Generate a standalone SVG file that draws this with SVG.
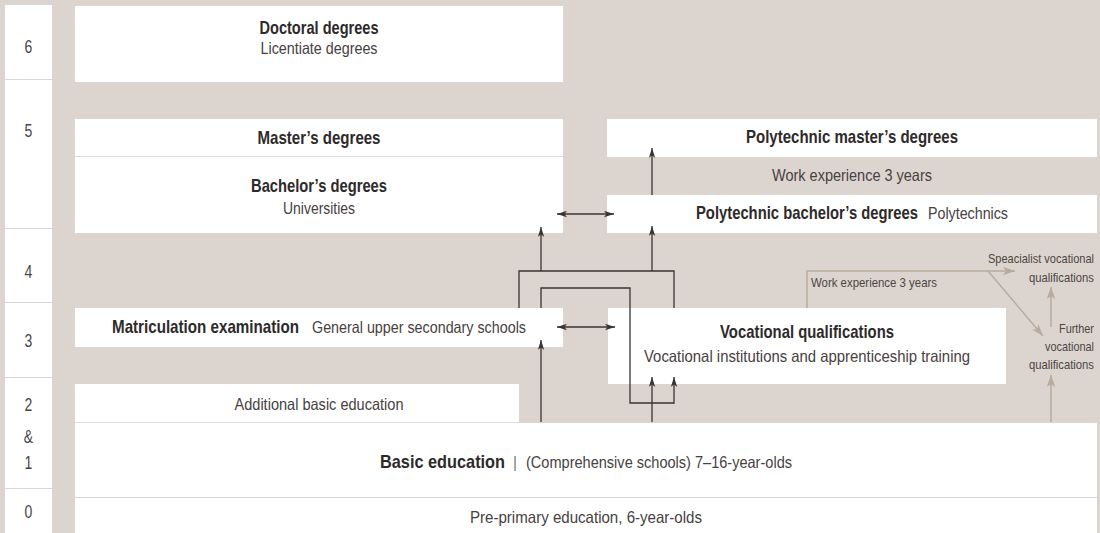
<svg xmlns="http://www.w3.org/2000/svg" width="1100" height="533" viewBox="0 0 1100 533">
<defs>
<style>
.bg{fill:#dcd5cf}
.box{fill:#ffffff}
.sep{stroke:#e3dbd5;stroke-width:1}
text{font-family:"Liberation Sans",Arial,sans-serif;font-size:13.5px;fill:#474141}
.t{font-weight:bold;font-size:14px;fill:#2e2a2a}
.num{font-size:14px;fill:#4a4444;text-anchor:middle}
.c{text-anchor:middle}
.sm{font-size:11px;fill:#4d4643}
.dk{fill:none;stroke:#3b3333;stroke-width:1.3}
.lt{fill:none;stroke:#b9aa9e;stroke-width:1.5}
</style>
<marker id="ah" viewBox="0 0 10 7" refX="10" refY="3.5" markerWidth="10" markerHeight="7" markerUnits="userSpaceOnUse" orient="auto-start-reverse">
<path d="M0,0.3 L10,3.5 L0,6.7 L2.5,3.5 z" fill="#3b3333"/>
</marker>
<marker id="al" viewBox="0 0 12 9" refX="12" refY="4.5" markerWidth="12" markerHeight="9" markerUnits="userSpaceOnUse" orient="auto-start-reverse">
<path d="M0,0.3 L12,4.5 L0,8.7 L3,4.5 z" fill="#b9aa9e"/>
</marker>
</defs>
<rect class="bg" x="0" y="0" width="1100" height="533"/>

<g id="levels">
<rect class="box" x="5" y="5" width="47" height="74"/>
<rect class="box" x="5" y="80" width="47" height="148"/>
<rect class="box" x="5" y="229" width="47" height="73"/>
<rect class="box" x="5" y="303" width="47" height="74"/>
<rect class="box" x="5" y="378" width="47" height="110"/>
<rect class="box" x="5" y="489" width="47" height="44"/>
<text class="num" transform="translate(28.5,53) scale(1,1.3)">6</text>
<text class="num" transform="translate(28.5,137) scale(1,1.3)">5</text>
<text class="num" transform="translate(28.5,278) scale(1,1.3)">4</text>
<text class="num" transform="translate(28.5,347) scale(1,1.3)">3</text>
<text class="num" transform="translate(28.5,411) scale(1,1.3)">2</text>
<text class="num" transform="translate(28.5,443) scale(1,1.3)">&amp;</text>
<text class="num" transform="translate(28.5,469) scale(1,1.3)">1</text>
<text class="num" transform="translate(28.5,518) scale(1,1.3)">0</text>
</g>

<g id="doctoral">
<rect class="box" x="75" y="6" width="488" height="76"/>
<text class="t c" transform="translate(319,34) scale(1,1.25)" textLength="119" lengthAdjust="spacingAndGlyphs">Doctoral degrees</text>
<text class="c" transform="translate(319,54) scale(1,1.25)" textLength="117" lengthAdjust="spacingAndGlyphs">Licentiate degrees</text>
</g>

<g id="masters">
<rect class="box" x="75" y="119" width="488" height="37"/>
<text class="t c" transform="translate(319,144) scale(1,1.25)" textLength="123" lengthAdjust="spacingAndGlyphs">Master’s degrees</text>
</g>

<g id="bachelors">
<rect class="box" x="75" y="157" width="488" height="76"/>
<line class="sep" x1="75" y1="156.5" x2="563" y2="156.5"/>
<text class="t c" transform="translate(319,192) scale(1,1.25)" textLength="136" lengthAdjust="spacingAndGlyphs">Bachelor’s degrees</text>
<text class="c" transform="translate(319,214) scale(1,1.25)" textLength="72" lengthAdjust="spacingAndGlyphs">Universities</text>
</g>

<g id="poly-masters">
<rect class="box" x="607" y="119" width="490" height="38"/>
<text class="t c" transform="translate(852,143) scale(1,1.25)" textLength="212" lengthAdjust="spacingAndGlyphs">Polytechnic master’s degrees</text>
</g>

<g id="poly-work">
<text class="c" transform="translate(852,181) scale(1,1.25)" textLength="160" lengthAdjust="spacingAndGlyphs">Work experience 3 years</text>
</g>

<g id="poly-bachelors">
<rect class="box" x="607" y="195" width="490" height="38"/>
<text class="t" transform="translate(696,219) scale(1,1.25)" textLength="222" lengthAdjust="spacingAndGlyphs">Polytechnic bachelor’s degrees</text>
<text transform="translate(928,219) scale(1,1.25)" textLength="80" lengthAdjust="spacingAndGlyphs">Polytechnics</text>
</g>

<g id="matriculation">
<rect class="box" x="75" y="308" width="488" height="39"/>
<text class="t" transform="translate(112,333) scale(1,1.25)" textLength="187" lengthAdjust="spacingAndGlyphs">Matriculation examination</text>
<text transform="translate(312,333) scale(1,1.25)" textLength="214" lengthAdjust="spacingAndGlyphs">General upper secondary schools</text>
</g>

<g id="vocational">
<rect class="box" x="608" y="308" width="398" height="76"/>
<text class="t c" transform="translate(807,338) scale(1,1.25)" textLength="174" lengthAdjust="spacingAndGlyphs">Vocational qualifications</text>
<text class="c" transform="translate(807,362) scale(1,1.25)" textLength="326" lengthAdjust="spacingAndGlyphs">Vocational institutions and apprenticeship training</text>
</g>

<g id="additional">
<rect class="box" x="75" y="384" width="444" height="38"/>
<text class="c" transform="translate(319,410) scale(1,1.25)" textLength="169" lengthAdjust="spacingAndGlyphs">Additional basic education</text>
</g>

<g id="basic">
<rect class="box" x="75" y="423" width="1022" height="74"/>
<line class="sep" x1="75" y1="422.5" x2="519" y2="422.5"/>
<text class="t" transform="translate(380,468) scale(1,1.25)" textLength="125" lengthAdjust="spacingAndGlyphs">Basic education</text>
<text class="c" transform="translate(515,468) scale(1,1.25)" style="fill:#666">|</text>
<text transform="translate(526,468) scale(1,1.25)" textLength="266" lengthAdjust="spacingAndGlyphs">(Comprehensive schools) 7–16-year-olds</text>
</g>

<g id="preprimary">
<rect class="box" x="75" y="498" width="1022" height="35"/>
<text class="c" transform="translate(586,523) scale(1,1.25)" textLength="232" lengthAdjust="spacingAndGlyphs">Pre-primary education, 6-year-olds</text>
</g>

<g id="further-quals">
<text class="sm" transform="translate(988,263) scale(1,1.2)" textLength="106" lengthAdjust="spacingAndGlyphs">Speacialist vocational</text>
<text class="sm" transform="translate(1029,282) scale(1,1.2)" textLength="65" lengthAdjust="spacingAndGlyphs">qualifications</text>
<text class="sm" transform="translate(1059,333) scale(1,1.2)" textLength="35" lengthAdjust="spacingAndGlyphs">Further</text>
<text class="sm" transform="translate(1045,351) scale(1,1.2)" textLength="49" lengthAdjust="spacingAndGlyphs">vocational</text>
<text class="sm" transform="translate(1029,369) scale(1,1.2)" textLength="65" lengthAdjust="spacingAndGlyphs">qualifications</text>
<text class="sm" transform="translate(811,287) scale(1,1.2)" style="font-size:11.4px" textLength="126" lengthAdjust="spacingAndGlyphs">Work experience 3 years</text>
</g>

<g id="connectors">
<line class="dk" x1="541" y1="422" x2="541" y2="340" marker-end="url(#ah)"/>
<polyline class="dk" points="519,308 519,271 674,271 674,308"/>
<line class="dk" x1="541" y1="271" x2="541" y2="227" marker-end="url(#ah)"/>
<line class="dk" x1="652" y1="271" x2="652" y2="226" marker-end="url(#ah)"/>
<polyline class="dk" points="541,308 541,288 630,288 630,403 674,403" />
<line class="dk" x1="674" y1="403.65" x2="674" y2="377" marker-end="url(#ah)"/>
<line class="dk" x1="652" y1="422" x2="652" y2="377" marker-end="url(#ah)"/>
<line class="dk" x1="557" y1="327" x2="615" y2="327" marker-start="url(#ah)" marker-end="url(#ah)"/>
<line class="dk" x1="557" y1="214" x2="614" y2="214" marker-start="url(#ah)" marker-end="url(#ah)"/>
<line class="dk" x1="652" y1="195" x2="652" y2="148" marker-end="url(#ah)"/>
<polyline class="lt" points="807,308 807,271 1015,271" marker-end="url(#al)"/>
<line class="lt" x1="988" y1="271" x2="1043" y2="336" marker-end="url(#al)"/>
<line class="lt" x1="1051" y1="422" x2="1051" y2="375" marker-end="url(#al)"/>
<line class="lt" x1="1051" y1="327" x2="1051" y2="287" marker-end="url(#al)"/>
</g>
</svg>
